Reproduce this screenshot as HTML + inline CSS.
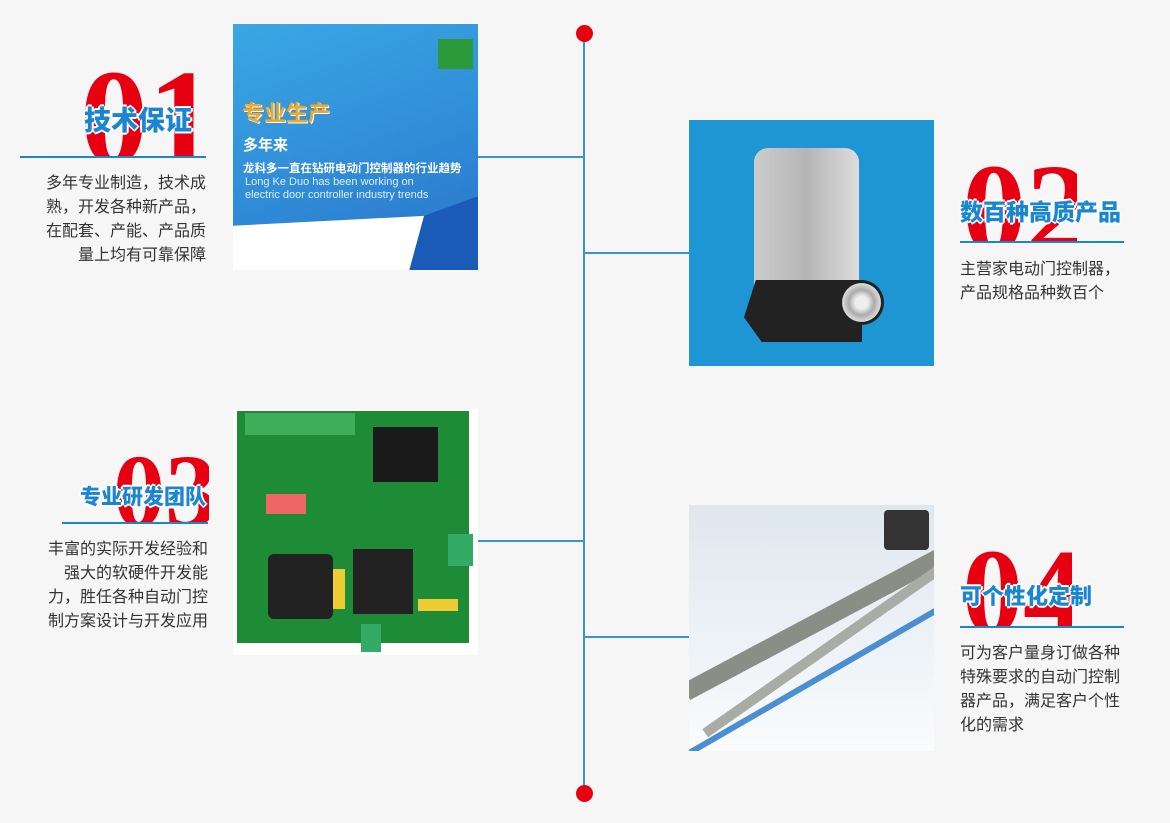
<!DOCTYPE html>
<html><head><meta charset="utf-8">
<style>
*{margin:0;padding:0;box-sizing:border-box}
body{width:1170px;height:823px;position:relative;overflow:hidden;background:#f6f6f6;font-family:"Liberation Sans","Noto Sans CJK SC",sans-serif}
.a{position:absolute}
.num{position:absolute;overflow:hidden;font-family:"Liberation Serif",serif;font-weight:bold;color:#e60012;line-height:1;letter-spacing:0}
.ttl{position:absolute;color:#1a86d0;font-weight:900;white-space:nowrap;text-shadow:2px 0 #fff,-2px 0 #fff,0 2px #fff,0 -2px #fff,1px 1px #fff,-1px -1px #fff;line-height:1}
.ul{position:absolute;height:2px;background:#1a86d0}
.txt{position:absolute;font-size:16px;line-height:24px;color:#333;white-space:nowrap}
.h{position:absolute;height:2px;background:#3b93d3}
</style></head><body>
<div class="a" style="left:583px;top:33px;width:2px;height:760px;background:#3b93d3"></div>
<div class="a" style="left:576px;top:25px;width:17px;height:17px;border-radius:50%;background:#e60012"></div>
<div class="a" style="left:576px;top:785px;width:17px;height:17px;border-radius:50%;background:#e60012"></div>
<div class="h" style="left:478px;top:156px;width:106px"></div>
<div class="h" style="left:584px;top:252px;width:105px"></div>
<div class="h" style="left:478px;top:540px;width:106px"></div>
<div class="h" style="left:584px;top:636px;width:105px"></div>

<!-- item 1 -->
<div class="num" style="left:80px;top:50px;width:130px;height:107px;font-size:136px">01</div>
<div class="ttl" style="left:84px;top:108px;font-size:27px">技术保证</div>
<div class="ul" style="left:20px;top:156px;width:186px"></div>
<div class="txt" style="left:20px;top:172px;width:186px;text-align:right">多年专业制造，技术成<br>熟，开发各种新产品，<br>在配套、产能、产品质<br>量上均有可靠保障</div>

<!-- image 1 -->
<div class="a" style="left:233px;top:24px;width:245px;height:246px;background:linear-gradient(160deg,#3aa8e4,#2f8ad6 60%,#2a70c8);overflow:hidden">
<div class="a" style="left:0;top:0;width:245px;height:246px;background:#fff;clip-path:polygon(0 82%,78% 78%,72% 100%,0 100%)"></div>
<div class="a" style="left:0;top:0;width:245px;height:246px;background:#1b5bb8;clip-path:polygon(100% 70%,100% 100%,72% 100%,78% 78%)"></div>
<div class="a" style="left:205px;top:15px;width:35px;height:30px;background:#2a9a3a"></div>
<div class="a" style="left:9px;top:72px;font-size:22px;font-weight:bold;color:#f5a623;text-shadow:1px 1px #fff">专业生产</div>
<div class="a" style="left:10px;top:110px;font-size:15px;font-weight:bold;color:#fff">多年来</div>
<div class="a" style="left:10px;top:136px;font-size:11.5px;font-weight:bold;color:#fff;white-space:nowrap">龙科多一直在钻研电动门控制器的行业趋势</div>
<div class="a" style="left:12px;top:152px;font-size:11px;color:#e0eefa;line-height:13px;white-space:nowrap">Long Ke Duo has been working on<br>electric door controller industry trends</div>
</div>

<!-- item 2 -->
<div class="a" style="left:689px;top:120px;width:245px;height:246px;background:#1f96d4;overflow:hidden">
<div class="a" style="left:65px;top:28px;width:105px;height:140px;background:linear-gradient(90deg,#ccc,#b5b5b5 50%,#ddd);border-radius:14px 14px 2px 2px"></div>
<div class="a" style="left:55px;top:160px;width:118px;height:62px;background:#222;clip-path:polygon(10% 0,100% 0,100% 100%,15% 100%,0 60%)"></div>
<div class="a" style="left:150px;top:160px;width:45px;height:45px;border-radius:50%;background:radial-gradient(#eee 20%,#aaa 40%,#ddd 60%,#222 62%)"></div>
</div>
<div class="num" style="left:962px;top:145px;width:115px;height:97px;font-size:128px">02</div>
<div class="ttl" style="left:960px;top:201px;font-size:23px">数百种高质产品</div>
<div class="ul" style="left:960px;top:241px;width:164px"></div>
<div class="txt" style="left:960px;top:258px">主营家电动门控制器，<br>产品规格品种数百个</div>

<!-- item 3 -->
<div class="a" style="left:233px;top:409px;width:245px;height:246px;background:#fff;overflow:hidden">
<div class="a" style="left:4px;top:2px;width:232px;height:232px;background:#1e8c36"></div>
<div class="a" style="left:12px;top:4px;width:110px;height:22px;background:#3eae5a"></div>
<div class="a" style="left:140px;top:18px;width:65px;height:55px;background:#1a1a1a"></div>
<div class="a" style="left:33px;top:85px;width:40px;height:20px;background:#e66"></div>
<div class="a" style="left:35px;top:145px;width:65px;height:65px;background:#222;border-radius:6px"></div>
<div class="a" style="left:120px;top:140px;width:60px;height:65px;background:#222"></div>
<div class="a" style="left:100px;top:160px;width:12px;height:40px;background:#ec3"></div>
<div class="a" style="left:185px;top:190px;width:40px;height:12px;background:#ec3"></div>
<div class="a" style="left:215px;top:125px;width:25px;height:32px;background:#3a6"></div>
<div class="a" style="left:128px;top:215px;width:20px;height:28px;background:#3a6"></div>
</div>
<div class="num" style="left:113px;top:440px;width:96px;height:83px;font-size:104px">03</div>
<div class="ttl" style="left:80px;top:487px;font-size:21px">专业研发团队</div>
<div class="ul" style="left:62px;top:522px;width:146px"></div>
<div class="txt" style="left:20px;top:538px;width:188px;text-align:right">丰富的实际开发经验和<br>强大的软硬件开发能<br>力，胜任各种自动门控<br>制方案设计与开发应用</div>

<!-- item 4 -->
<div class="a" style="left:689px;top:505px;width:245px;height:246px;background:linear-gradient(180deg,#dfe7ee,#eef3f7 60%,#fafcfd);overflow:hidden">
<div class="a" style="left:-20px;top:110px;width:290px;height:18px;background:#8a8e86;transform:rotate(-28deg)"></div>
<div class="a" style="left:-10px;top:140px;width:290px;height:10px;background:#a8aca4;transform:rotate(-35deg)"></div>
<div class="a" style="left:-20px;top:170px;width:300px;height:6px;background:#4c8fd0;transform:rotate(-30deg)"></div>
<div class="a" style="left:195px;top:5px;width:45px;height:40px;background:#333;border-radius:4px"></div>
</div>
<div class="num" style="left:962px;top:532px;width:110px;height:95px;font-size:122px">04</div>
<div class="ttl" style="left:960px;top:586px;font-size:22px">可个性化定制</div>
<div class="ul" style="left:960px;top:626px;width:164px"></div>
<div class="txt" style="left:960px;top:642px">可为客户量身订做各种<br>特殊要求的自动门控制<br>器产品，满足客户个性<br>化的需求</div>
</body></html>
